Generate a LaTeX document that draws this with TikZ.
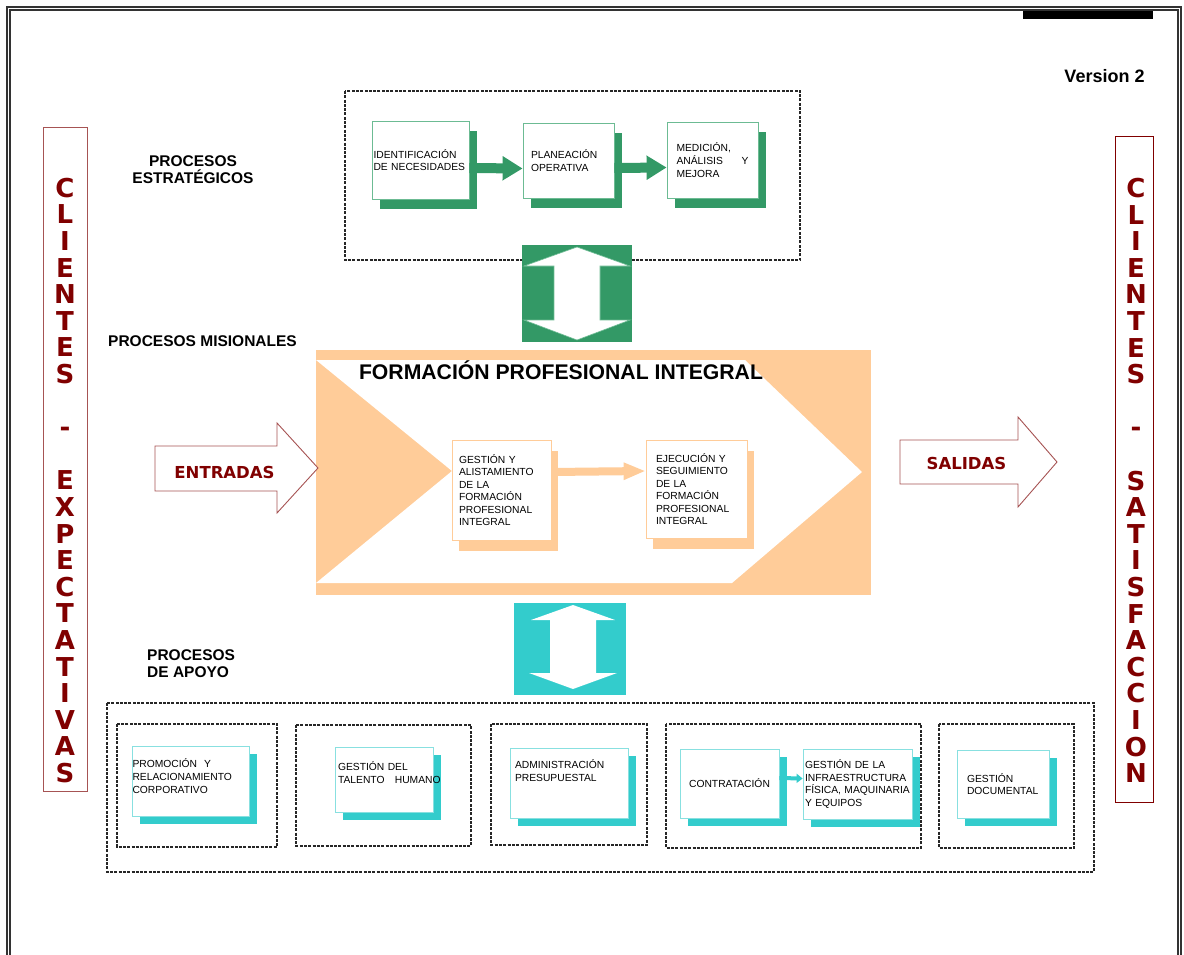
\documentclass[tikz,border=0pt]{standalone}
\usepackage{fontspec}
\setmainfont{Liberation Sans}
\newfontfamily\verd{DejaVu Sans}
\usetikzlibrary{arrows.meta}

\definecolor{pgreen}{HTML}{339966}
\definecolor{pgreenl}{HTML}{6CBB93}
\definecolor{pcyan}{HTML}{33CCCC}
\definecolor{pcyanl}{HTML}{88E0E0}
\definecolor{ppeach}{HTML}{FFCC99}
\definecolor{pred}{HTML}{800000}
\definecolor{predl}{HTML}{A65353}

\tikzset{
  pageframe/.style={draw=black!80,line width=1.1pt},
  dbox/.style={draw=black!85,line width=1.1pt,dash pattern=on 3pt off 1.3pt},
  boxtext/.style={font=\fontsize{10.3}{12.8}\selectfont,align=left},
  gbox/.style={boxtext,draw=pgreenl,fill=white,line width=0.8pt,
    preaction={fill=pgreen,transform canvas={xshift=8pt,yshift=-10pt}}},
  obox/.style={boxtext,font=\fontsize{10.3}{12.4}\selectfont,draw=ppeach,fill=white,line width=0.8pt,
    preaction={fill=ppeach,transform canvas={xshift=7pt,yshift=-11pt}}},
  cbox/.style={boxtext,draw=pcyanl,fill=white,line width=0.8pt,
    preaction={fill=pcyan,transform canvas={xshift=8pt,yshift=-8pt}}},
  sect/.style={font=\fontsize{15.5}{17.5}\selectfont\bfseries,inner sep=0pt},
  redtxt/.style={text=pred,font=\verd\bfseries\fontsize{16.5}{18}\selectfont,inner sep=0pt},
  bartxt/.style={text=pred,font=\verd\bfseries\fontsize{26}{26.6}\selectfont,align=center,inner sep=0pt},
  redarrow/.style={draw=predl,fill=white,line width=0.9pt},
  garrow/.style={draw=pgreen,line width=10pt,-{Triangle[width=23pt,length=20pt]}},
  oarrow/.style={draw=ppeach,line width=8pt,-{Triangle[width=16pt,length=22pt]}},
  carrow/.style={draw=pcyan,line width=4pt,-{Triangle[width=9pt,length=6pt]}},
}

\begin{document}
\begin{tikzpicture}[x=1pt,y=-1pt]
\useasboundingbox (0,0) rectangle (1184,955);
\draw[pageframe] (7,965) -- (7,7) -- (1181,7) -- (1181,965);
\draw[pageframe] (10,965) -- (10,10) -- (1178,10) -- (1178,965);
\fill (1023,11) rectangle (1153,19);
\node[font=\fontsize{18}{20}\selectfont\bfseries,anchor=base,inner sep=0pt] (version) at (1104.5,83) {Version 2};

% clientes
\draw[predl,line width=1pt] (43,128) rectangle (87,791);
\node[bartxt] (expect) at (65,480.5) {C\\L\\I\\E\\N\\T\\E\\S\\[26.6pt]-\\[26.6pt]E\\X\\P\\E\\C\\T\\A\\T\\I\\V\\A\\S};
\draw[pred,line width=1pt] (1115,137) rectangle (1153,802);
\node[bartxt] (satisf) at (1136,480.5) {C\\L\\I\\E\\N\\T\\E\\S\\[26.6pt]-\\[26.6pt]S\\A\\T\\I\\S\\F\\A\\C\\C\\I\\O\\N};

% estrategicos
\node[sect,align=center] (estrat) at (193,169.5) {PROCESOS\\ESTRATÉGICOS};
\draw[dbox] (345,91) rectangle (800,260);
\node[gbox,minimum height=78pt,text width=94pt,inner xsep=1.5pt] (ident) at (420.5,160) {IDENTIFICACIÓN\\DE NECESIDADES};
\node[gbox,minimum height=75pt,text width=75pt,inner xsep=8pt] (plan) at (568.5,160.5) {PLANEACIÓN\\OPERATIVA};
\node[gbox,minimum height=76pt,text width=72pt,inner xsep=9.5pt] (medic) at (712.5,160) {MEDICIÓN,\\ANÁLISIS\hfill Y\\MEJORA};
\draw[garrow] ([yshift=-8pt]ident.east) -- ([yshift=-8pt]plan.west);
\draw[garrow] ([yshift=-7.5pt]plan.east) -- ([yshift=-7.5pt]medic.west);
\fill[pgreen] (522,245) rectangle (632,342);
\filldraw[fill=white,draw=pgreenl,line width=0.6pt] (577,247) -- (630,266) -- (600,266) -- (600,320) -- (630,320) -- (577,340)
  -- (524,320) -- (554,320) -- (554,266) -- (524,266) -- cycle;

% misionales
\node[sect,anchor=base] (mision) at (202.5,346) {PROCESOS MISIONALES};
\fill[ppeach] (316,350) rectangle (871,595);
\fill[white] (316,360) -- (745,360) -- (862,472) -- (732,583) -- (316,583) -- (452,471) -- cycle;
\node[font=\fontsize{21.2}{24}\selectfont\bfseries,anchor=base,inner sep=0pt] (fpi) at (561,379) {FORMACIÓN PROFESIONAL INTEGRAL};
\node[obox,minimum height=100pt,text width=85pt,inner xsep=7pt] (gest) at (501.5,490) {GESTIÓN Y\\ALISTAMIENTO\\DE LA\\FORMACIÓN\\PROFESIONAL\\INTEGRAL};
\node[obox,minimum height=98pt,text width=81pt,inner xsep=10pt] (ejec) at (696.5,489) {EJECUCIÓN Y\\SEGUIMIENTO\\DE LA\\FORMACIÓN\\PROFESIONAL\\INTEGRAL};
\draw[oarrow] ([yshift=18pt]gest.east) -- ([yshift=18pt]ejec.west);
\draw[redarrow] (155,446) -- (277,446) -- (277,423) -- (318,468) -- (277,513) -- (277,491) -- (155,491) -- cycle;
\node[redtxt,anchor=base] (entradas) at (224.5,478) {ENTRADAS};
\draw[redarrow] (900,440) -- (1018,440) -- (1018,417) -- (1057,462) -- (1018,507) -- (1018,484) -- (900,484) -- cycle;
\node[redtxt,anchor=base] (salidas) at (966.5,469) {SALIDAS};

% apoyo
\fill[pcyan] (514,603) rectangle (626,695);
\fill[white] (573,605) -- (615,620) -- (596,620) -- (596,673) -- (617,673) -- (573,689)
  -- (529,673) -- (550,673) -- (550,620) -- (531,620) -- cycle;
\node[sect,align=left,anchor=west] (apoyo) at (147,663.5) {PROCESOS\\DE APOYO};
\draw[dbox] (107,703) rectangle (1094,872);
\draw[dbox] (117,724) rectangle (277,847);
\draw[dbox] (296,725) rectangle (471,846);
\draw[dbox] (491,724) rectangle (647,845);
\draw[dbox] (666,724) rectangle (921,848);
\draw[dbox] (939,724) rectangle (1074,848);
\node[cbox,minimum height=70pt,text width=116pt,inner xsep=0.5pt] (promo) at (190.5,781) {PROMOCIÓN\ \ Y\\RELACIONAMIENTO\\CORPORATIVO\\[-3pt]\mbox{}};
\node[cbox,minimum height=65pt,text width=92pt,inner xsep=3pt] (talento) at (384,779.5) {GESTIÓN DEL\\\mbox{TALENTO\ \ \ HUMANO}\\[1pt]\mbox{}};
\node[cbox,minimum height=70pt,text width=108pt,inner xsep=5pt] (presup) at (569,783) {ADMINISTRACIÓN\\PRESUPUESTAL\\[12pt]\mbox{}};
\node[cbox,minimum height=69pt,text width=87pt,inner xsep=6pt,align=center] (contrat) at (729.5,783.5) {CONTRATACIÓN};
\node[cbox,minimum height=70pt,text width=105pt,inner xsep=2pt] (infra) at (857.5,784) {GESTIÓN DE LA\\INFRAESTRUCTURA\\\mbox{FÍSICA, MAQUINARIA}\\Y EQUIPOS};
\node[cbox,minimum height=68pt,text width=72pt,inner xsep=10pt] (docum) at (1003,784) {GESTIÓN\\DOCUMENTAL};
\draw[carrow] ([yshift=5.5pt]contrat.east) -- ([yshift=5.5pt]infra.west);
\end{tikzpicture}
\end{document}
